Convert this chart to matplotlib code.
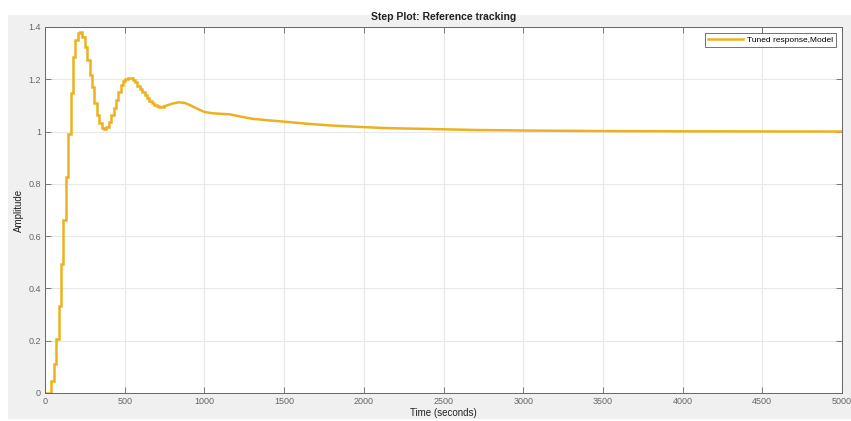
import numpy as np
import matplotlib
matplotlib.use('Agg')
import matplotlib.pyplot as plt
from matplotlib.patches import Rectangle

plt.rcParams['font.family'] = ['Liberation Sans', 'DejaVu Sans']

# discrete part of the step response (sample hold)
step_t = [0, 40, 55, 70, 85, 100, 115, 130, 145, 160, 175, 190, 205, 220, 235,
          250, 265, 280, 295, 310, 325, 340, 355, 370, 385, 400, 415, 430, 445,
          460, 475, 490, 505, 520, 535, 550, 565, 580, 595, 610, 625, 640, 655,
          670, 685, 700, 715, 730, 745]
step_y = [0.0, 0.046, 0.11, 0.207, 0.334, 0.494, 0.66, 0.826, 0.99, 1.147,
          1.285, 1.35, 1.376, 1.382, 1.363, 1.325, 1.274, 1.217, 1.172, 1.109,
          1.063, 1.032, 1.013, 1.008, 1.019, 1.038, 1.063, 1.089, 1.121, 1.153,
          1.178, 1.192, 1.201, 1.205, 1.204, 1.198, 1.188, 1.176, 1.164, 1.152,
          1.140, 1.128, 1.117, 1.108, 1.100, 1.096, 1.094, 1.094, 1.096]

# slow tail, looks smooth at this scale
tail_t = [745, 760, 800, 840, 880, 920, 960, 1000, 1050, 1100, 1160, 1220,
          1300, 1400, 1500, 1640, 1800, 2000, 2150, 2400, 2700, 3000, 3500,
          4000, 4500, 5000]
tail_y = [1.096, 1.099, 1.107, 1.112, 1.109, 1.098, 1.086, 1.075, 1.070,
          1.068, 1.066, 1.058, 1.049, 1.043, 1.038, 1.030, 1.023, 1.017, 1.013,
          1.010, 1.006, 1.004, 1.002, 1.001, 1.0005, 1.0]

xticks = np.arange(0, 5001, 500)
yticks = [0, 0.2, 0.4, 0.6, 0.8, 1.0, 1.2, 1.4]
ytick_labels = ['0', '0.2', '0.4', '0.6', '0.8', '1', '1.2', '1.4']

line_color = '#EDB120'
axis_color = '#666666'

fig = plt.figure(figsize=(8.51, 4.21), dpi=100)
fig.patch.set_facecolor('white')
# grey panel behind the axes, like the matlab figure window
fig.patches.append(Rectangle((8 / 851, 2 / 421), 1 - 8 / 851, 1 - 17 / 421,
                             transform=fig.transFigure, facecolor='#f0f0f0',
                             edgecolor='none', zorder=-10))

ax = fig.add_axes([45 / 851, 28 / 421, 797 / 851, 366 / 421])
ax.set_facecolor('white')

ax.plot(step_t, step_y, drawstyle='steps-post', color=line_color, lw=1.8,
        label='Tuned response,Model', solid_joinstyle='miter')
ax.plot(tail_t, tail_y, color=line_color, lw=1.8)

ax.set_xlim(0, 5000)
ax.set_ylim(0, 1.4)
ax.set_xticks(xticks)
ax.set_xticklabels([str(v) for v in xticks])
ax.set_yticks(yticks)
ax.set_yticklabels(ytick_labels)
ax.grid(True, color='#e8e8e8', lw=0.8)
ax.set_axisbelow(True)

ax.tick_params(direction='in', length=4, width=0.6, colors=axis_color,
               labelsize=6.5, top=True, right=True, pad=3)
for s in ax.spines.values():
    s.set_color(axis_color)
    s.set_linewidth(0.7)

ax.set_title('Step Plot: Reference tracking', fontsize=7.5, fontweight='bold',
             color='#222222', pad=5)
ax.set_xlabel('Time (seconds)', fontsize=7, color='#222222', labelpad=1)
ax.set_ylabel('Amplitude', fontsize=7, color='#222222', labelpad=3)

leg = ax.legend(loc='upper right', fontsize=6, frameon=True, fancybox=False,
                handlelength=4.2, borderpad=0.35, borderaxespad=0.7,
                handletextpad=0.5)
leg.get_frame().set_edgecolor('#333333')
leg.get_frame().set_linewidth(0.6)

fig.savefig('out.png', dpi=100, facecolor=fig.get_facecolor())
